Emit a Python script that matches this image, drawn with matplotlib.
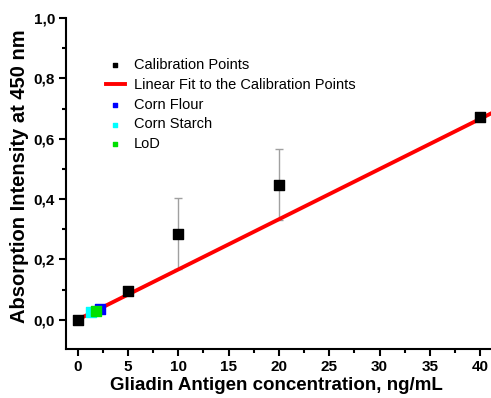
import numpy as np
import matplotlib as mpl
import matplotlib.pyplot as plt
from matplotlib.ticker import MultipleLocator, FuncFormatter

mpl.rcParams['font.family'] = ['Liberation Sans', 'DejaVu Sans']

# calibration data
cal_x = [0, 5, 10, 20, 40]
cal_y = [0.0, 0.095, 0.285, 0.448, 0.672]
cal_err = [0.0, 0.0, 0.117, 0.117, 0.0]

# linear fit (slope, intercept)
fit_slope = 0.01665
fit_icpt = 0.0
fit_x = [0, 41.5]

# samples
flour_x, flour_y = [2.2], [0.036]
starch_x, starch_y = [1.3], [0.027]
lod_x, lod_y = [1.8], [0.030]

dpi = 100
W, H = 491, 398
fig = plt.figure(dpi=dpi, figsize=(W / dpi, H / dpi))
ax = fig.add_axes([66 / W, 1 - 349 / H, (W - 66) / W + 0.05, (349 - 18) / H])

ax.errorbar(cal_x, cal_y, yerr=cal_err, fmt='none', ecolor='#a0a0a0',
            elinewidth=1, capsize=3, capthick=1, zorder=1)
fx = np.array(fit_x)
ax.plot(fx, fit_slope * fx + fit_icpt, color='red', lw=2.8, zorder=2,
        label='Linear Fit to the Calibration Points')
ax.scatter(cal_x, cal_y, marker='s', s=55, color='black', zorder=3,
           label='Calibration Points')
ax.scatter(flour_x, flour_y, marker='s', s=55, color='blue', zorder=3,
           label='Corn Flour')
ax.scatter(starch_x, starch_y, marker='s', s=55, color='cyan', zorder=3,
           label='Corn Starch')
ax.scatter(lod_x, lod_y, marker='s', s=55, color='#00e000', zorder=4,
           label='LoD')

ax.set_xlim(-1.15, 43.5)
ax.set_ylim(-0.097, 1.0)

for s in ['top', 'right']:
    ax.spines[s].set_visible(False)
ax.spines['left'].set_linewidth(1.5)
ax.spines['bottom'].set_linewidth(1.5)

ax.xaxis.set_major_locator(MultipleLocator(5))
ax.xaxis.set_minor_locator(MultipleLocator(2.5))
ax.yaxis.set_major_locator(MultipleLocator(0.2))
ax.yaxis.set_minor_locator(MultipleLocator(0.1))
ax.yaxis.set_major_formatter(FuncFormatter(lambda v, p: ('%.1f' % v).replace('.', ',')))
ax.tick_params(which='major', direction='out', length=5, width=1.5, labelsize=11, pad=3)
ax.tick_params(which='minor', direction='out', length=3, width=1.5)
for lab in ax.get_xticklabels() + ax.get_yticklabels():
    lab.set_fontweight('bold')

ax.set_xlabel('Gliadin Antigen concentration, ng/mL', fontsize=13.5, fontweight='bold')
ax.set_ylabel('Absorption Intensity at 450 nm', fontsize=14.5, fontweight='bold')
ax.xaxis.set_label_coords(276 / W, 1 - 386 / H, transform=fig.transFigure)
ax.yaxis.set_label_coords(20 / W, 1 - 176 / H, transform=fig.transFigure)
ax.xaxis.label.set_va('center')
ax.yaxis.label.set_va('center')

h, l = ax.get_legend_handles_labels()
order = [1, 0, 2, 3, 4]
leg = ax.legend([h[i] for i in order], [l[i] for i in order], loc='upper left',
                bbox_to_anchor=(100 / W, 1 - 52 / H), bbox_transform=fig.transFigure,
                frameon=False, fontsize=10.5, borderaxespad=0,
                handlelength=1.3, handletextpad=0.6, labelspacing=0.4,
                markerscale=0.4)

fig.savefig('out.png', dpi=dpi)
